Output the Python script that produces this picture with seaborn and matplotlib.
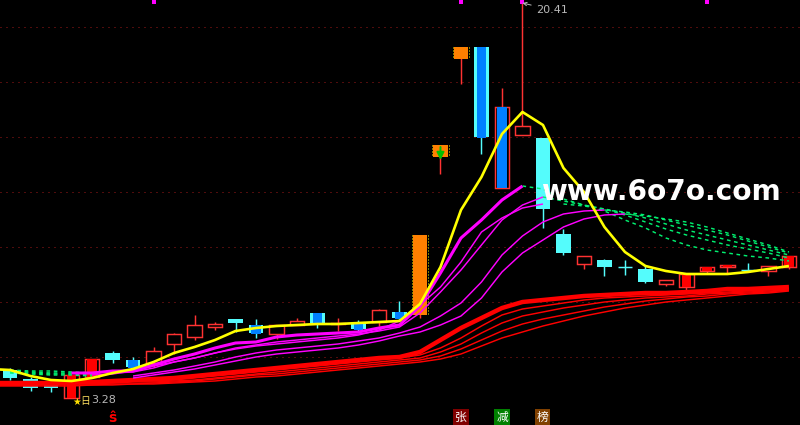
import numpy as np
import pandas as pd
import matplotlib
matplotlib.use("Agg")
import matplotlib.pyplot as plt
import seaborn as sns

# readings from the picture, depth = distance down from the top of the chart
kinds = ["c", "c", "c", "R", "R", "c", "b", "r", "r", "r", "r", "c", "b", "r", "r", "b", "r", "b", "r", "b",
         "o", "o", "o", "b", "x", "r", "c", "c", "r", "c", "c", "c", "r", "R", "R", "R", "c", "r", "R"]
body_top = [370, 379, 384, 375, 359, 353, 360, 351, 334, 325, 324, 319, 325, 325, 321, 313, 323, 323, 310, 312,
            235, 145, 47, 47, 107, 126, 138, 234, 256, 260, 267, 269, 280, 274, 267, 265, 270, 266, 256]
body_bot = [378, 388, 388, 398, 377, 360, 367, 363, 344, 337, 327, 323, 333, 334, 325, 324, 324, 329, 322, 318,
            315, 157, 59, 137, 188, 135, 209, 253, 264, 267, 267, 282, 284, 287, 271, 267, 270, 271, 267]
wick_top = [368, 377, 382, 375, 359, 351, 357, 347, 333, 315, 322, 319, 319, 325, 318, 313, 318, 320, 309, 301,
            235, 145, 47, 47, 88, 3, 138, 229, 256, 259, 260, 266, 280, 274, 267, 265, 263, 266, 256]
wick_bot = [380, 391, 392, 398, 377, 363, 369, 367, 354, 340, 330, 332, 338, 339, 325, 328, 331, 331, 326, 320,
            318, 174, 84, 154, 188, 135, 228, 255, 269, 276, 275, 283, 286, 291, 273, 273, 272, 276, 269]

yellow = [369, 370, 376, 380, 381, 378, 373, 369, 362, 353, 347, 340, 331, 328, 326, 325, 324, 324, 323, 322, 321,
          304, 267, 210, 177, 134, 112, 125, 168, 192, 227, 252, 266, 271, 274, 274, 274, 272, 269, 266]

mag_a = [373, 373, 371, 371, 365, 359, 354, 348, 343, 342, 337, 335, 334, 333, 332, 328, 325, 306, 273, 238, 220, 200, 186]
mag_b = [373, 372, 368, 362, 358, 353, 348, 345, 342, 340, 338, 336, 334, 331, 327, 313, 292, 270, 245, 220, 205, 197]
mag_c = [375, 374, 371, 366, 362, 358, 353, 349, 346, 344, 342, 340, 338, 335, 330, 321, 305, 287, 262, 232, 218, 208, 204]
mag_d = [376, 373, 370, 366, 362, 357, 353, 350, 348, 346, 344, 341, 338, 333, 327, 316, 303, 282, 255, 236, 222, 214, 211, 210]
mag_e = [378, 375, 372, 369, 365, 361, 357, 354, 352, 350, 348, 345, 341, 336, 332, 325, 316, 298, 272, 253, 240, 227, 219, 215, 214]

fall_a = [186, 189, 199, 205, 211, 220, 228, 238, 245, 250, 253, 256, 258, 261]
fall_b = [197, 201, 205, 209, 215, 222, 229, 235, 240, 245, 249, 253, 258]
fall_c = [204, 206, 209, 213, 218, 224, 230, 235, 240, 245, 250, 255]
fall_d = [210, 212, 215, 220, 225, 230, 235, 241, 247, 253]
fall_e = [214, 216, 219, 222, 227, 233, 239, 245, 252]
early_a = [370, 371, 371, 372, 373]
early_b = [371, 372, 373, 373, 374]
early_c = [372, 373, 374, 374, 375]
early_d = [373, 374, 375, 375, 376]

red_a = [383, 383, 383, 383, 382, 382, 381, 380, 379, 378, 376, 374, 372, 370, 368, 366, 364, 362, 360, 358, 357,
         352, 340, 328, 318, 308, 302, 300, 298, 296, 295, 294, 293, 293, 292, 291, 289, 289, 288, 287]
red_b = [384, 384, 384, 384, 383, 383, 382, 381, 381, 380, 378, 376, 374, 372, 370, 368, 366, 364, 362, 360, 358,
         355, 348, 338, 326, 315, 309, 306, 303, 300, 298, 297, 296, 295, 294, 293, 292, 291, 290, 289]
red_c = [385, 385, 385, 384, 384, 384, 383, 382, 382, 381, 380, 378, 376, 374, 372, 370, 368, 366, 364, 362, 360,
         358, 352, 344, 333, 323, 316, 312, 308, 305, 302, 300, 298, 297, 296, 294, 293, 292, 291, 290]
red_d = [385, 385, 385, 385, 385, 385, 384, 384, 383, 382, 381, 379, 377, 375, 374, 372, 370, 368, 366, 364, 362,
         360, 356, 349, 340, 331, 324, 319, 315, 311, 307, 304, 301, 299, 297, 296, 294, 293, 292, 290]
red_e = [386, 386, 386, 386, 386, 385, 385, 384, 384, 383, 382, 381, 379, 377, 376, 374, 372, 370, 368, 366, 364,
         362, 359, 354, 346, 338, 332, 326, 321, 316, 312, 308, 305, 302, 300, 298, 296, 294, 293, 291]

grid_levels = [27, 82, 137, 192, 247, 302, 357]
top_marks = [7, 22, 25, 34]
bottom_labels = ["张", "减", "榜"]
bottom_idx = [22, 24, 26]
bottom_bg = ["#800000", "#008000", "#804000"]

RED = "#ff3232"
CYAN = "#54fcfc"
BLUE = "#0080ff"
ORANGE = "#ff8000"
PX = 0.72  # one pixel in points at dpi 100
THIN = 1.05

sns.set_theme(style="dark")
plt.rcParams["font.family"] = ["Noto Sans CJK SC", "DejaVu Sans"]

fig, ax = plt.subplots(figsize=(8, 4.25), dpi=100)
fig.patch.set_facecolor("black")
ax.set_position([0, 0, 1, 1])
ax.set_facecolor("black")


def draw_line(start, vals, color, lw, ls="-"):
    d = pd.DataFrame({"x": np.arange(start, start + len(vals)), "y": vals})
    sns.lineplot(data=d, x="x", y="y", color=color, linewidth=lw, linestyle=ls, ax=ax,
                 errorbar=None, zorder=4, solid_capstyle="butt")


# candles
w = 0.72
for i, k in enumerate(kinds):
    top, bot = body_top[i], body_bot[i]
    edge = {"r": RED, "R": RED, "x": RED, "c": CYAN, "b": CYAN, "o": RED}[k]
    ax.vlines(i, wick_top[i], wick_bot[i], color=edge, linewidth=THIN, zorder=2)
    h = bot - top
    if h == 0:
        ax.hlines(top, i - w / 2, i + w / 2, color=edge, linewidth=THIN, zorder=3)
    elif k == "r":
        ax.bar(i, h, w, bottom=top, facecolor="black", edgecolor=RED, linewidth=THIN, zorder=3)
    elif k == "R":
        ax.bar(i, h, w, bottom=top, facecolor="black", edgecolor=RED, linewidth=THIN, zorder=3)
        ax.bar(i, h, w * 0.62, bottom=top, color="#ff0000", linewidth=0, zorder=3)
    elif k == "c":
        ax.bar(i, h, w, bottom=top, color=CYAN, linewidth=0, zorder=3)
    elif k == "b":
        ax.bar(i, h, w, bottom=top, color=CYAN, linewidth=0, zorder=3)
        ax.bar(i, h + 1, w * 0.62, bottom=top, color=BLUE, linewidth=0, zorder=3)
    elif k == "x":
        ax.bar(i, h, w, bottom=top, facecolor="black", edgecolor=RED, linewidth=THIN, zorder=3)
        ax.bar(i, h, w * 0.62, bottom=top, color=BLUE, linewidth=0, zorder=3)
    elif k == "o":
        ax.bar(i, h, w, bottom=top, color=ORANGE, linewidth=0, zorder=3)
        ax.vlines([i - w / 2 - 0.05, i + w / 2 + 0.05], top, bot, color="#ffff00",
                  linewidth=PX, linestyle=(0, (1, 2)), zorder=3)

# red band
draw_line(-1, red_e, "#ff0000", THIN)
draw_line(-1, red_d, "#ff0000", THIN)
draw_line(-1, red_c, "#ff0000", THIN)
draw_line(-1, red_b, "#ff0000", THIN)
draw_line(-1, red_a, "#ff0000", 3.2)

# green dashes where the fan falls
dash = (0, (2.5, 2.5))
for s, vals in [(25, fall_a), (26, fall_b), (27, fall_c), (29, fall_d), (30, fall_e),
                (0, early_a), (0, early_b), (0, early_c), (0, early_d)]:
    draw_line(s, vals, "#00f070", THIN, dash)

# magenta fan
draw_line(6, mag_e, "#ff00ff", THIN)
draw_line(6, mag_d, "#ff00ff", THIN)
draw_line(4, mag_c, "#ff00ff", THIN)
draw_line(5, mag_b, "#ff00ff", THIN)
draw_line(3, mag_a, "#ff00ff", 2.2)

draw_line(-1, yellow, "#ffff00", 1.9)

ax.set_xlim(-0.49, 38.54)
ax.set_ylim(425, 0)
ax.set_xticks([])
ax.set_yticks(grid_levels)
ax.set_yticklabels([])
ax.set_xlabel("")
ax.set_ylabel("")
ax.tick_params(length=0)
ax.grid(axis="y", color="#a01818", linestyle=(0, (1, 5)), linewidth=PX)
sns.despine(ax=ax, left=True, bottom=True)

# signal arrow on the orange candle
ax.annotate("", xy=(21, 160), xytext=(21, 147), zorder=6,
            arrowprops=dict(arrowstyle="-|>", color="#00c000", lw=1.4, mutation_scale=11,
                            shrinkA=0, shrinkB=0))

ax.scatter(top_marks, [2] * len(top_marks), marker="s", s=6, color="#ff00ff", linewidths=0, zorder=5)

# high / low labels
ax.annotate("20.41", xy=(25, 3), xytext=(25.65, 10), color="#b8b8b8", fontsize=8, va="center",
            family=["DejaVu Sans"], zorder=7,
            arrowprops=dict(arrowstyle="->", color="#b8b8b8", lw=PX, mutation_scale=6, shrinkA=1, shrinkB=0))
ax.text(3.95, 400, "3.28", color="#b8b8b8", fontsize=8, va="center", family=["DejaVu Sans"], zorder=7)
ax.text(3.25, 402, "★", color="#ffe000", fontsize=7, ha="center", va="center", family=["DejaVu Sans"], zorder=7)
ax.text(3.65, 401, "日", color="#ffe060", fontsize=7, ha="center", va="center", zorder=7)

# bottom signs
ax.text(5, 418, "ŝ", color="#ff0000", fontsize=10, ha="center", va="center", fontweight="bold",
        family=["DejaVu Sans"], zorder=7)
for lab, i, bg in zip(bottom_labels, bottom_idx, bottom_bg):
    ax.text(i, 417, lab, color="white", fontsize=8.5, ha="center", va="center", zorder=7,
            bbox=dict(facecolor=bg, edgecolor="none", pad=1.2))

ax.text(31.76, 191.5, "www.6o7o.com", color="white", fontsize=20.2, fontweight="bold", ha="center", va="center",
        family=["DejaVu Sans"], zorder=8)

fig.savefig("out.png", dpi=100, facecolor="black")
